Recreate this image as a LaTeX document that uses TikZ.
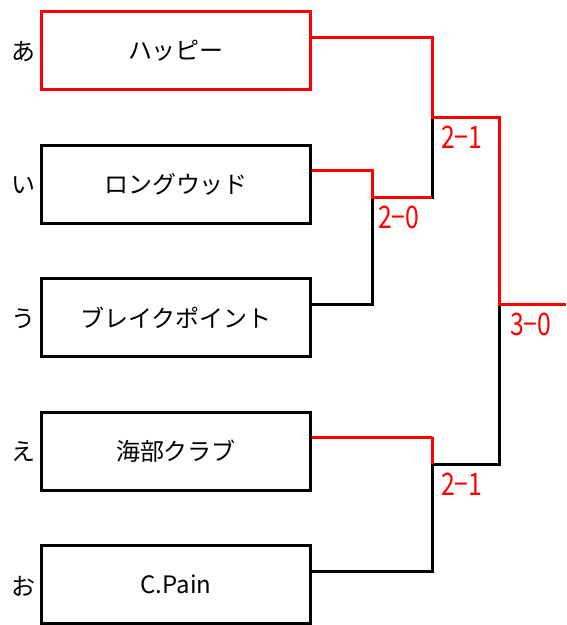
\documentclass[tikz,border=0pt]{standalone}
\usepackage{fontspec}
\setmainfont{Noto Sans CJK JP}
\newfontfamily\scorefont[FakeStretch=0.8]{Noto Sans CJK JP}
\definecolor{win}{RGB}{255,0,0}
\begin{document}
\begin{tikzpicture}[x=1pt,y=-1pt,
  team/.style={draw=black,line width=3pt,fill=white,minimum width=269pt,minimum height=78pt,inner sep=0pt,font=\fontsize{24}{28}\selectfont},
  seed/.style={inner sep=0pt,font=\fontsize{24}{28}\selectfont},
  lose/.style={draw=black,line width=3pt},
  winl/.style={draw=win,line width=3pt},
  score/.style={text=win,inner sep=0pt,anchor=west,font=\scorefont\fontsize{31}{35}\selectfont}]
\useasboundingbox (0,0) rectangle (566,625);
% teams
\node[team,draw=win] (a) at (176,50.5) {ハッピー};
\node[team] (b) at (176,184) {ロングウッド};
\node[team] (c) at (176,317.5) {ブレイクポイント};
\node[team] (d) at (176,451) {海部クラブ};
\node[team] (e) at (176,584.5) {C.Pain};
\node[seed] (sa) at (23,52) {あ};
\node[seed] (sb) at (23,185) {い};
\node[seed] (sc) at (23,319) {う};
\node[seed] (sd) at (23,452) {え};
\node[seed] (se) at (23,586) {お};
% junctions
\coordinate (j1) at (372,197);
\coordinate (j2) at (432,117);
\coordinate (j3) at (432,464);
\coordinate (j4) at (499,304);
\coordinate (fin) at (566,304);
% losing lines
\draw[lose] ([yshift=13.5pt]c.east) -| (j1);
\draw[lose] (j1) -| (j2);
\draw[lose] ([yshift=13.5pt]e.east) -| (j3);
\draw[lose] (j3) -| (j4);
% winning lines
\draw[winl] ([yshift=13.5pt]b.east) -| ([yshift=13pt]j1) -- (j1) -- (j1 -| j2);
\draw[winl] ([yshift=13.5pt]a.east) -| (j2) -| (j4) -- (fin);
\draw[winl] ([yshift=13.5pt]d.east) -| ([yshift=27pt]j3) -- (j3);
% scores
\node[score] (s1) at (378,217) {2−0};
\node[score] (s2) at (441,137) {2−1};
\node[score] (s3) at (510,324) {3−0};
\node[score] (s4) at (441,484) {2−1};
\end{tikzpicture}
\end{document}
